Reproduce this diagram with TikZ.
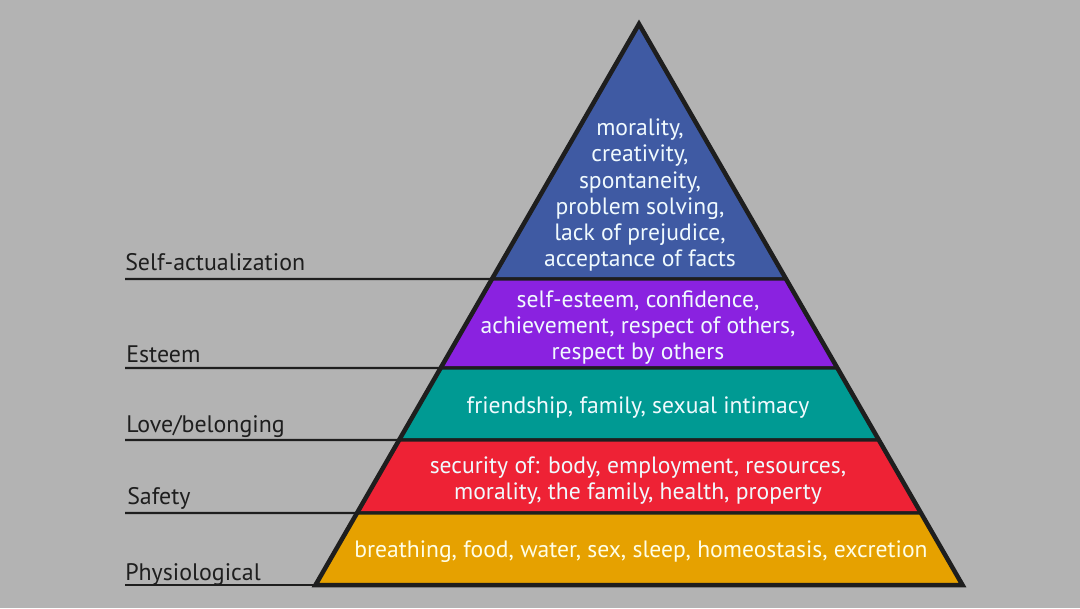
\documentclass[tikz,border=0pt]{standalone}
\usepackage{fontspec}
\setmainfont{PT Sans}
\usetikzlibrary{calc}
\definecolor{bg}{HTML}{B3B3B3}
\definecolor{cblue}{HTML}{3F5AA3}
\definecolor{cpurple}{HTML}{8A22E0}
\definecolor{cteal}{HTML}{009A93}
\definecolor{cred}{HTML}{EE2235}
\definecolor{cyellow}{HTML}{E6A100}
\definecolor{ink}{HTML}{1E1E1E}
\begin{document}
\begin{tikzpicture}[x=0.025cm,y=-0.025cm,
  band/.style={draw=ink,line width=2.2pt,line join=round},
  lvl/.style={text=white!94!cyan,font=\fontsize{16.8}{18.5}\selectfont,align=center,inner sep=0pt},
  lab/.style={text=ink,font=\fontsize{17}{18}\selectfont,anchor=base west,inner sep=0pt},
  rule/.style={draw=ink,line width=1.6pt}]
\fill[bg] (0,0) rectangle (1080,608);
\useasboundingbox (0,0) rectangle (1080,608);
\coordinate (apex) at (639,24);
\coordinate (bl) at (315.5,585);
\coordinate (br) at (962.5,585);
% boundary points
\foreach \n/\y in {a/279,b/368,c/440,d/513}{
  \coordinate (L\n) at ($(apex)!{(\y-24)/561}!(bl)$);
  \coordinate (R\n) at ($(apex)!{(\y-24)/561}!(br)$);
}
\filldraw[band,fill=cblue] (apex) -- (Ra) -- (La) -- cycle;
\filldraw[band,fill=cpurple] (La) -- (Ra) -- (Rb) -- (Lb) -- cycle;
\filldraw[band,fill=cteal] (Lb) -- (Rb) -- (Rc) -- (Lc) -- cycle;
\filldraw[band,fill=cred] (Lc) -- (Rc) -- (Rd) -- (Ld) -- cycle;
\filldraw[band,fill=cyellow] (Ld) -- (Rd) -- (br) -- (bl) -- cycle;
\draw[draw=ink,line width=3.2pt,line join=miter] (apex) -- (br) -- (bl) -- cycle;
% texts
\node[lvl] (t1) at (640,195) {morality,\\creativity,\\spontaneity,\\problem solving,\\lack of prejudice,\\acceptance of facts};
\node[lvl] (t2) at (638,328) {self-esteem, confidence,\\achievement, respect of others,\\respect by others};
\node[lvl] (t3) at (638,408) {friendship, family, sexual intimacy};
\node[lvl] (t4) at (638,481) {security of: body, employment, resources,\\morality, the family, health, property};
\node[lvl,text=white!90!yellow] (t5) at (641,552) {breathing, food, water, sex, sleep, homeostasis, excretion};
% side labels and rules
\foreach \n/\y in {a/279,b/368,c/440,d/513}{\coordinate (S\n) at (125,\y);}
\coordinate (Se) at (125,585);
\draw[rule] (Sa) -- (La);
\draw[rule] (Sb) -- (Lb);
\draw[rule] (Sc) -- (Lc);
\draw[rule] (Sd) -- (Ld);
\draw[rule] (Se) -- (bl);
\node[lab] (l1) at (125,270) {Self-actualization};
\node[lab] (l2) at (126,362) {Esteem};
\node[lab] (l3) at (126,432) {Love/belonging};
\node[lab] (l4) at (127,504) {Safety};
\node[lab] (l5) at (125,580) {Physiological};
\end{tikzpicture}
\end{document}
